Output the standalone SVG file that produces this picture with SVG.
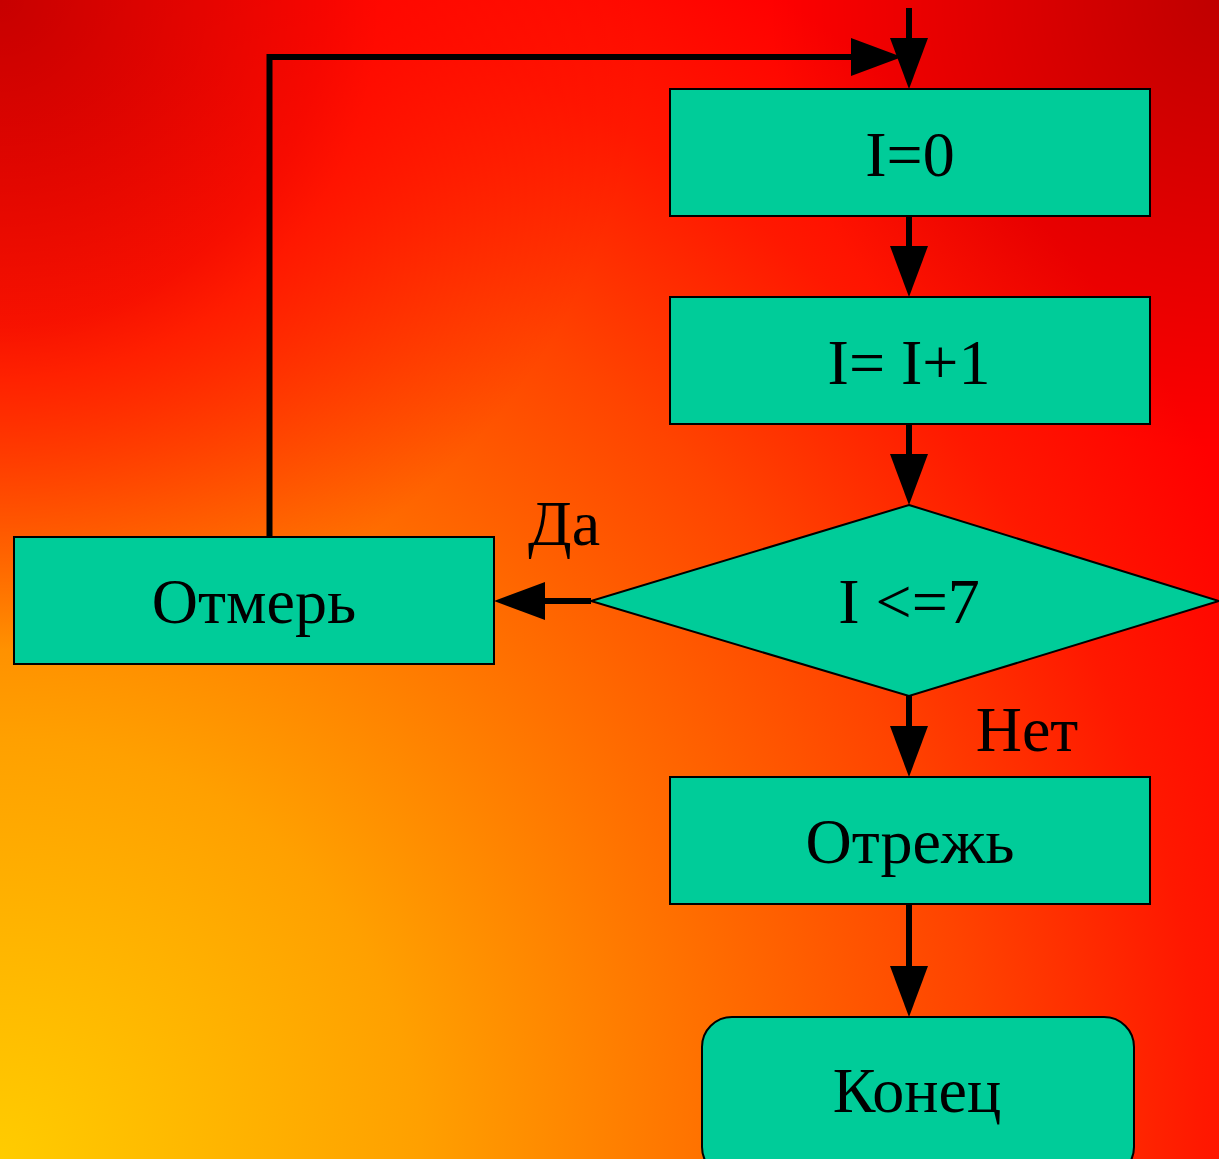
<svg xmlns="http://www.w3.org/2000/svg" width="1219" height="1159" viewBox="0 0 1219 1159">
<defs>
<radialGradient id="bg" gradientUnits="userSpaceOnUse" cx="0" cy="1159" r="1400">
<stop offset="0" stop-color="#ffcc00"/>
<stop offset="0.3" stop-color="#ffa000"/>
<stop offset="0.7" stop-color="#ff4400"/>
<stop offset="0.86" stop-color="#ff1800"/>
<stop offset="1" stop-color="#ff0000"/>
</radialGradient>
<radialGradient id="redTL" gradientUnits="userSpaceOnUse" cx="0" cy="0" r="650">
<stop offset="0" stop-color="#ff0000" stop-opacity="1"/>
<stop offset="0.5" stop-color="#ff0000" stop-opacity="0.8"/>
<stop offset="1" stop-color="#ff0000" stop-opacity="0"/>
</radialGradient>
<radialGradient id="dkL" gradientUnits="userSpaceOnUse" cx="0" cy="0" r="380">
<stop offset="0" stop-color="#000" stop-opacity="0.22"/>
<stop offset="1" stop-color="#000" stop-opacity="0"/>
</radialGradient>
<radialGradient id="dkR" gradientUnits="userSpaceOnUse" cx="1219" cy="0" r="450">
<stop offset="0" stop-color="#000" stop-opacity="0.25"/>
<stop offset="1" stop-color="#000" stop-opacity="0"/>
</radialGradient>
<marker id="ah" markerUnits="userSpaceOnUse" markerWidth="52" markerHeight="40" refX="6" refY="19" orient="auto" viewBox="0 0 52 38">
<path d="M0,0 L51,19 L0,38 Z" fill="#000"/>
</marker>
<style>
.box{fill:#00cc99;stroke:#000;stroke-width:2}
.lbl{font-family:"Liberation Serif","Times New Roman",serif;font-size:64px;fill:#000;text-anchor:middle}
.conn{fill:none;stroke:#000;stroke-width:6;marker-end:url(#ah)}
</style>
</defs>
<rect width="1219" height="1159" fill="url(#bg)"/>
<rect width="1219" height="1159" fill="url(#redTL)"/>
<rect width="1219" height="1159" fill="url(#dkL)"/>
<rect width="1219" height="1159" fill="url(#dkR)"/>
<g id="connectors">
<path class="conn" d="M909,8 V44"/>
<path class="conn" d="M269.5,537 V57 H857"/>
<path class="conn" d="M909,216 V252"/>
<path class="conn" d="M909,424 V460"/>
<path class="conn" d="M591,601 H539"/>
<path class="conn" d="M909,696 V732"/>
<path class="conn" d="M909,904 V972"/>
</g>
<g id="n_i0">
<rect class="box" x="670" y="89" width="480" height="127"/>
<text class="lbl" x="910" y="176">I=0</text>
</g>
<g id="n_inc">
<rect class="box" x="670" y="297" width="480" height="127"/>
<text class="lbl" x="909" y="384">I= I+1</text>
</g>
<g id="n_cond">
<polygon class="box" points="909,505 1219,601 909,696 591,601"/>
<text class="lbl" x="909" y="623">I &lt;=7</text>
</g>
<g id="n_measure">
<rect class="box" x="14" y="537" width="480" height="127"/>
<text class="lbl" x="254" y="623">Отмерь</text>
</g>
<g id="n_cut">
<rect class="box" x="670" y="777" width="480" height="127"/>
<text class="lbl" x="910" y="863">Отрежь</text>
</g>
<g id="n_end">
<rect class="box" x="702" y="1017" width="432" height="160" rx="30" ry="30"/>
<text class="lbl" x="917" y="1112">Конец</text>
</g>
<g id="edge_labels">
<text class="lbl" x="564" y="545">Да</text>
<text class="lbl" x="1027" y="751">Нет</text>
</g>
</svg>
